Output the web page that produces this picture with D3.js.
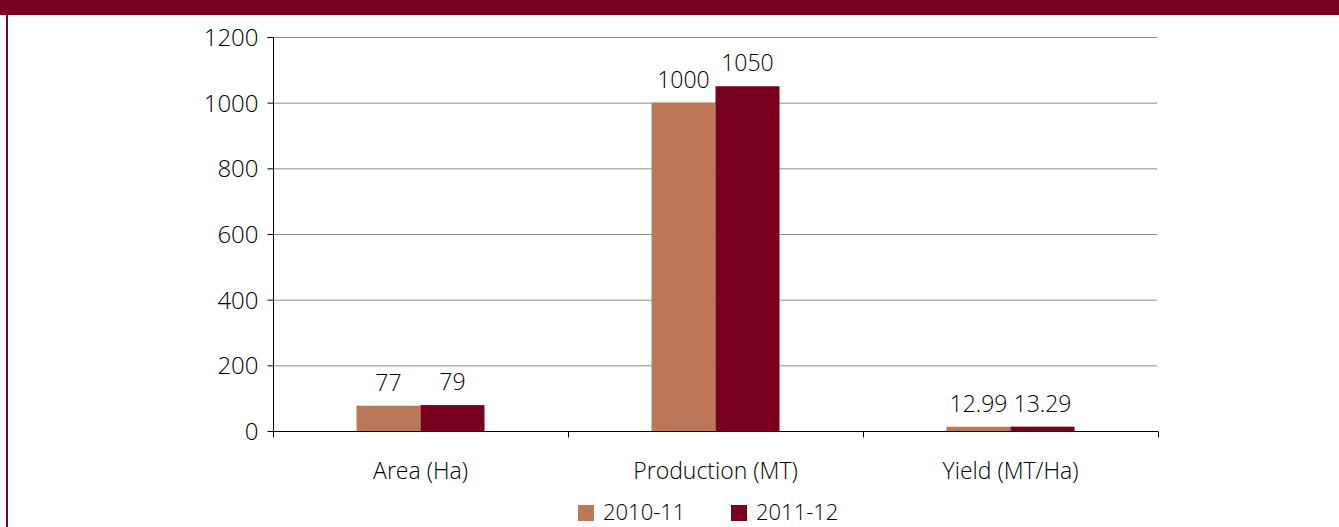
<!DOCTYPE html>
<html>
<head>
<meta charset="utf-8">
<script src="https://cdn.jsdelivr.net/npm/d3@7"></script>
<style>
  body { margin: 0; background: #fff; }
  text { font-family: "Open Sans", Lato, sans-serif; font-weight: 300; fill: #000; }
</style>
</head>
<body>
<script>
// datos del grafico
const categorias = ["Area (Ha)", "Production (MT)", "Yield (MT/Ha)"];
const series = ["2010-11", "2011-12"];
const valores2010 = [77, 1000, 12.99];
const valores2011 = [79, 1050, 13.29];
const etiquetas2010 = ["77", "1000", "12.99"];
const etiquetas2011 = ["79", "1050", "13.29"];
const ticksY = [0, 200, 400, 600, 800, 1000, 1200];
const colores = ["#bc7856", "#7a0020"];

const ancho = 1339, alto = 527;
const svg = d3.select("body").append("svg").attr("width", ancho).attr("height", alto);

/* banda superior y borde izquierdo */
svg.append("rect").attr("x", 0).attr("y", 0).attr("width", ancho).attr("height", 15).attr("fill", "#7a0020");
svg.append("rect").attr("x", 6).attr("y", 15).attr("width", 2).attr("height", alto - 15).attr("fill", "#7a0020");

const izq = 273, der = 1158, arriba = 37, abajo = 431;

const x = d3.scaleBand().domain(categorias).range([izq, der]).paddingInner(0).paddingOuter(0);
const xSerie = d3.scaleBand().domain(series).range([0, 128]);
const y = d3.scaleLinear().domain([0, 1200]).range([abajo, arriba]);

// lineas de cuadricula
svg.append("g").selectAll("line").data(ticksY.filter(d => d > 0)).join("line")
    .attr("x1", izq).attr("x2", der - 1)
    .attr("y1", d => y(d) + 0.5).attr("y2", d => y(d) + 0.5)
    .attr("stroke", "#8c8c8c").attr("stroke-width", 1);

// eje Y
const ejeY = svg.append("g").attr("transform", `translate(${izq + 0.5},0)`)
    .call(d3.axisLeft(y).tickValues(ticksY).tickFormat(d3.format("d")).tickSize(6).tickPadding(9));
ejeY.select(".domain").attr("stroke", "#000").attr("d", `M-6,${arriba + 0.5}H0V${abajo + 0.5}`);
ejeY.selectAll(".tick line").attr("stroke", "#000");
ejeY.selectAll(".tick text").style("font-size", "24px").style("font-family", null).attr("fill", "#000").attr("dy", "0.35em");

// barras
const datos = categorias.map((c, i) => ({
    cat: c,
    vals: [
        {serie: series[0], v: valores2010[i], txt: etiquetas2010[i]},
        {serie: series[1], v: valores2011[i], txt: etiquetas2011[i]}
    ]
}));

const grupos = svg.append("g").selectAll("g").data(datos).join("g")
    .attr("transform", d => `translate(${x(d.cat) + (x.bandwidth() - 128) / 2},0)`);

grupos.selectAll("rect").data(d => d.vals).join("rect")
    .attr("x", d => xSerie(d.serie))
    .attr("y", d => y(d.v))
    .attr("width", xSerie.bandwidth())
    .attr("height", d => abajo - y(d.v))
    .attr("fill", (d, i) => colores[i]);

grupos.selectAll("text").data(d => d.vals).join("text")
    .attr("x", d => xSerie(d.serie) + xSerie.bandwidth() / 2)
    .attr("y", d => y(d.v) - 15)
    .attr("text-anchor", "middle")
    .style("font-size", "23px")
    .text(d => d.txt);

// eje X
const ejeX = svg.append("g").attr("transform", `translate(0,${abajo + 0.5})`);
ejeX.append("line").attr("x1", izq).attr("x2", der).attr("y1", 0).attr("y2", 0).attr("stroke", "#000");
const bordes = categorias.map(c => x(c)).concat([der]);
ejeX.selectAll("line.tick").data(bordes).join("line").attr("class", "tick")
    .attr("x1", d => Math.round(d) + 0.5).attr("x2", d => Math.round(d) + 0.5)
    .attr("y1", 0).attr("y2", 6).attr("stroke", "#000");
ejeX.selectAll("text").data(categorias).join("text")
    .attr("x", d => x(d) + x.bandwidth() / 2)
    .attr("y", 47)
    .attr("text-anchor", "middle")
    .style("font-size", "23px")
    .text(d => d);

// leyenda
const leyenda = svg.append("g");
const posLeyenda = [578, 731];
series.forEach((s, i) => {
    leyenda.append("rect").attr("x", posLeyenda[i]).attr("y", 505).attr("width", 16).attr("height", 16).attr("fill", colores[i]);
    leyenda.append("text").attr("x", posLeyenda[i] + 25).attr("y", 520).style("font-size", "22px").text(s);
});
</script>
</body>
</html>
